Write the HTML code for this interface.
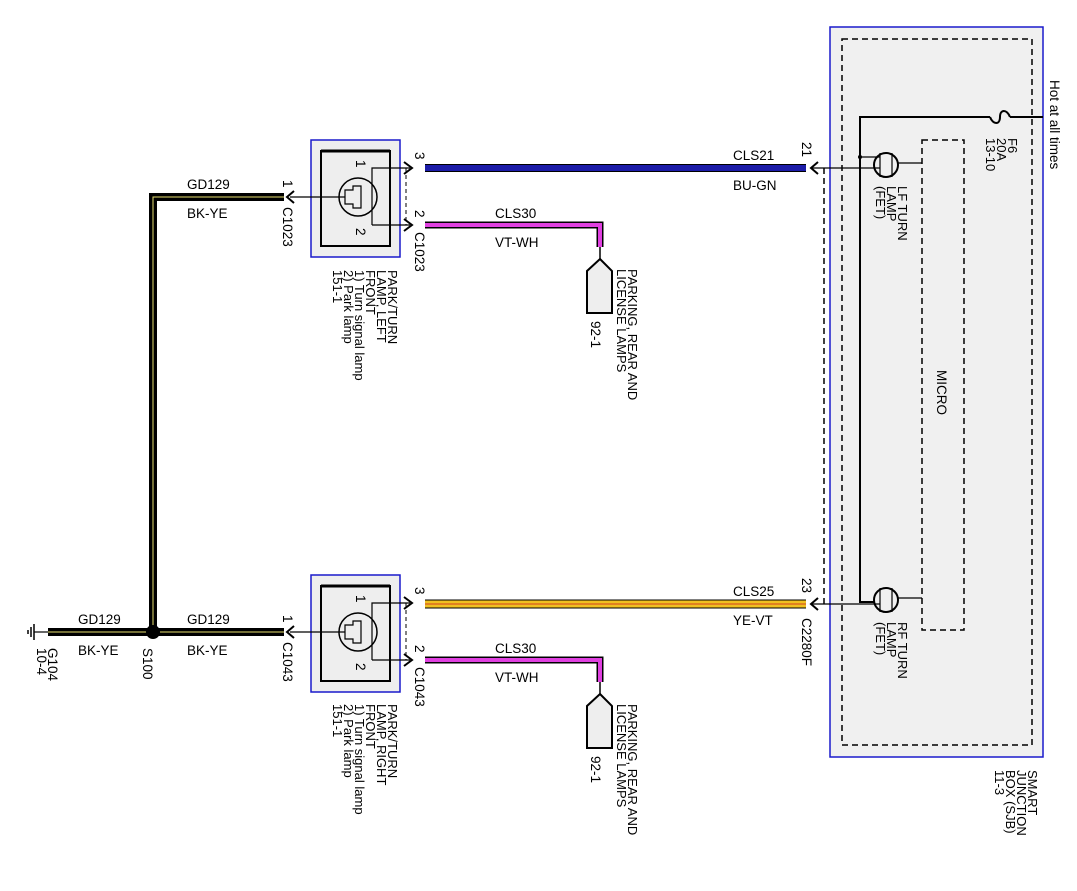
<!DOCTYPE html>
<html><head><meta charset="utf-8"><style>
html,body{margin:0;padding:0;background:#fff;}
svg{display:block;font-family:"Liberation Sans",sans-serif;}
text{font-size:13.5px;fill:#000;}
text.s{font-size:13px;}
</style></head><body>
<svg width="1077" height="891" viewBox="0 0 1077 891" xmlns="http://www.w3.org/2000/svg">
<defs>
<g id="conn">
 <rect x="311" y="0" width="89" height="117" fill="#eeeeee" stroke="#1a1acc" stroke-width="1.5"/>
 <rect x="321" y="11" width="69" height="95" fill="none" stroke="#000" stroke-width="2"/>
 <line x1="321" y1="11" x2="390" y2="11" stroke="#000" stroke-width="3"/>
 <circle cx="358" cy="57" r="19" fill="none" stroke="#000" stroke-width="1.5"/>
 <path d="M345 50 h8 v-4 h8 v22 h-8 v-4 h-8 z" fill="none" stroke="#000" stroke-width="1.2"/>
 <line x1="290" y1="57" x2="345" y2="57" stroke="#000" stroke-width="1.2"/>
 <polyline points="372,85 372,28 410,28" fill="none" stroke="#000" stroke-width="1.2"/>
 <line x1="372" y1="85" x2="410" y2="85" stroke="#000" stroke-width="1.2"/>
 <line x1="406" y1="28" x2="406" y2="85" stroke="#000" stroke-dasharray="4,3"/>
 <path d="M404 22 l8 6 l-8 6" fill="none" stroke="#000" stroke-width="2"/>
 <path d="M404 79 l8 6 l-8 6" fill="none" stroke="#000" stroke-width="2"/>
 <path d="M294 51 l-7 6 l7 6" fill="none" stroke="#000" stroke-width="2"/>
 <text transform="translate(356,20) rotate(90)">1</text>
 <text transform="translate(356,88) rotate(90)">2</text>
 <text transform="translate(415,12) rotate(90)">3</text>
 <text transform="translate(415,70) rotate(90)">2</text>
 <text transform="translate(283,40) rotate(90)">1</text>
</g>
<g id="plamp">
 <polyline points="425,0 600,0 600,22" fill="none" stroke="#000" stroke-width="7"/>
 <polyline points="425,0 600,0 600,22" fill="none" stroke="#e040e0" stroke-width="4"/>
 <line x1="600" y1="22" x2="600" y2="34" stroke="#000" stroke-width="1.5"/>
 <path d="M600 34 l12 12 v42 h-25 v-42 z" fill="#eeeeee" stroke="#000" stroke-width="2"/>
 <text x="495" y="-7">CLS30</text>
 <text x="495" y="22">VT-WH</text>
 <text transform="translate(591,96) rotate(90)">92-1</text>
 <text class="s" transform="translate(628,44) rotate(90)">PARKING, REAR AND</text>
 <text class="s" transform="translate(617,44) rotate(90)">LICENSE LAMPS</text>
</g>
</defs>

<!-- SJB -->
<rect x="830" y="27" width="213" height="730" fill="#f0f0f0" stroke="#1a1acc" stroke-width="1.5"/>
<rect x="842" y="39" width="190" height="706" fill="none" stroke="#000" stroke-width="1.5" stroke-dasharray="6,4"/>
<rect x="922" y="140" width="42" height="490" fill="none" stroke="#000" stroke-width="1.5" stroke-dasharray="6,4"/>
<text transform="translate(937,370) rotate(90)">MICRO</text>
<polyline points="1043,117 1010,117" fill="none" stroke="#000" stroke-width="2"/>
<path d="M1010 117 c-3 -8 -10 -8 -10 0 c0 8 -7 8 -10 0" fill="none" stroke="#000" stroke-width="2"/>
<polyline points="990,117 860,117 860,602 875,602" fill="none" stroke="#000" stroke-width="2"/>
<line x1="860" y1="157" x2="880" y2="157" stroke="#000" stroke-width="1.2"/>
<circle cx="860" cy="157" r="2" fill="#000"/>
<circle cx="886" cy="165" r="12" fill="none" stroke="#000" stroke-width="2"/>
<line x1="880" y1="153" x2="880" y2="177" stroke="#000" stroke-width="1.2"/>
<line x1="892" y1="153" x2="892" y2="177" stroke="#000" stroke-width="1.2"/>
<line x1="898" y1="163" x2="922" y2="163" stroke="#000" stroke-width="1.2"/>
<line x1="812" y1="168" x2="880" y2="168" stroke="#000" stroke-width="1.2"/>
<circle cx="886" cy="600" r="12" fill="none" stroke="#000" stroke-width="2"/>
<line x1="880" y1="588" x2="880" y2="612" stroke="#000" stroke-width="1.2"/>
<line x1="892" y1="588" x2="892" y2="612" stroke="#000" stroke-width="1.2"/>
<line x1="898" y1="598" x2="922" y2="598" stroke="#000" stroke-width="1.2"/>
<line x1="812" y1="604" x2="880" y2="604" stroke="#000" stroke-width="1.2"/>
<line x1="824" y1="168" x2="824" y2="604" stroke="#000" stroke-width="1.5" stroke-dasharray="6,4"/>
<path d="M818 162 l-7 6 l7 6" fill="none" stroke="#000" stroke-width="2"/>
<path d="M818 598 l-7 6 l7 6" fill="none" stroke="#000" stroke-width="2"/>
<text transform="translate(1050,80) rotate(90)">Hot at all times</text>
<text class="s" transform="translate(1008,138) rotate(90)">F6</text>
<text class="s" transform="translate(997,138) rotate(90)">20A</text>
<text class="s" transform="translate(986,138) rotate(90)">13-10</text>
<text class="s" transform="translate(898,186) rotate(90)">LF TURN</text>
<text class="s" transform="translate(887,186) rotate(90)">LAMP</text>
<text class="s" transform="translate(876,186) rotate(90)">(FET)</text>
<text class="s" transform="translate(898,622) rotate(90)">RF TURN</text>
<text class="s" transform="translate(887,622) rotate(90)">LAMP</text>
<text class="s" transform="translate(876,622) rotate(90)">(FET)</text>
<text class="s" transform="translate(1028,770) rotate(90)">SMART</text>
<text class="s" transform="translate(1017,770) rotate(90)">JUNCTION</text>
<text class="s" transform="translate(1006,770) rotate(90)">BOX (SJB)</text>
<text class="s" transform="translate(995,770) rotate(90)">11-3</text>

<!-- wires to SJB -->
<line x1="425" y1="168" x2="806" y2="168" stroke="#000" stroke-width="8"/>
<line x1="425" y1="168" x2="806" y2="168" stroke="#1c1ca8" stroke-width="6"/>
<text x="733" y="160">CLS21</text>
<text x="733" y="190">BU-GN</text>
<text transform="translate(802,142) rotate(90)">21</text>
<line x1="425" y1="604" x2="806" y2="604" stroke="#000" stroke-width="9"/>
<line x1="425" y1="604" x2="806" y2="604" stroke="#f0c020" stroke-width="7"/>
<line x1="425" y1="604" x2="806" y2="604" stroke="#d04020" stroke-width="1"/>
<text x="733" y="596">CLS25</text>
<text x="733" y="625">YE-VT</text>
<text transform="translate(802,578) rotate(90)">23</text>
<text transform="translate(802,618) rotate(90)">C2280F</text>

<!-- connectors -->
<use href="#conn" transform="translate(0,140)"/>
<use href="#conn" transform="translate(0,575)"/>
<use href="#plamp" transform="translate(0,225)"/>
<use href="#plamp" transform="translate(0,660)"/>

<text transform="translate(283,207) rotate(90)">C1023</text>
<text transform="translate(415,232) rotate(90)">C1023</text>
<text class="s" transform="translate(388,270) rotate(90)">PARK/TURN</text>
<text class="s" transform="translate(377,270) rotate(90)">LAMP, LEFT</text>
<text class="s" transform="translate(366,270) rotate(90)">FRONT</text>
<text class="s" transform="translate(355,270) rotate(90)">1) Turn signal lamp</text>
<text class="s" transform="translate(344,270) rotate(90)">2) Park lamp</text>
<text class="s" transform="translate(333,270) rotate(90)">151-1</text>

<text transform="translate(283,642) rotate(90)">C1043</text>
<text transform="translate(415,667) rotate(90)">C1043</text>
<text class="s" transform="translate(388,704) rotate(90)">PARK/TURN</text>
<text class="s" transform="translate(377,704) rotate(90)">LAMP, RIGHT</text>
<text class="s" transform="translate(366,704) rotate(90)">FRONT</text>
<text class="s" transform="translate(355,704) rotate(90)">1) Turn signal lamp</text>
<text class="s" transform="translate(344,704) rotate(90)">2) Park lamp</text>
<text class="s" transform="translate(333,704) rotate(90)">151-1</text>

<!-- ground wires -->
<polyline points="284,197 153,197 153,632" fill="none" stroke="#000" stroke-width="8"/>
<polyline points="284,197 153,197 153,632" fill="none" stroke="#e8e070" stroke-width="1"/>
<line x1="48" y1="632" x2="284" y2="632" stroke="#000" stroke-width="8"/>
<line x1="48" y1="632" x2="284" y2="632" stroke="#e8e070" stroke-width="1"/>
<circle cx="153" cy="632" r="7" fill="#000"/>
<line x1="34" y1="632" x2="48" y2="632" stroke="#000" stroke-width="1.2"/>
<line x1="34" y1="624" x2="34" y2="640" stroke="#000" stroke-width="1.5"/>
<line x1="31" y1="627" x2="31" y2="637" stroke="#000" stroke-width="1.5"/>
<line x1="28" y1="630" x2="28" y2="634" stroke="#000" stroke-width="1.5"/>
<text x="187" y="189">GD129</text>
<text x="187" y="218">BK-YE</text>
<text x="78" y="624">GD129</text>
<text x="78" y="655">BK-YE</text>
<text x="187" y="624">GD129</text>
<text x="187" y="655">BK-YE</text>
<text transform="translate(143,648) rotate(90)">S100</text>
<text transform="translate(48,648) rotate(90)">G104</text>
<text transform="translate(37,648) rotate(90)">10-4</text>
</svg>
</body></html>
